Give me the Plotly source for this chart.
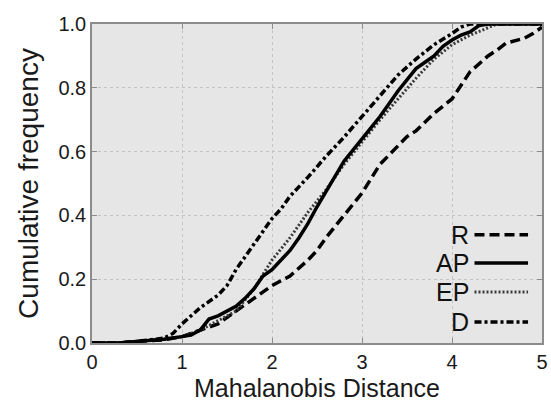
import plotly.graph_objects as go

# Data
R_x = [0, 0.3, 0.5, 0.8, 1.0, 1.2, 1.4, 1.6, 1.8, 2.0, 2.2, 2.4, 2.5, 2.6, 2.8, 3.0, 3.2, 3.4, 3.5, 3.6, 3.8, 4.0, 4.1, 4.2, 4.4, 4.5, 4.6, 4.8, 4.9, 5.0]
R_y = [0, 0, 0.005, 0.01, 0.02, 0.04, 0.06, 0.10, 0.14, 0.18, 0.21, 0.26, 0.29, 0.33, 0.40, 0.47, 0.56, 0.62, 0.647, 0.665, 0.72, 0.765, 0.81, 0.85, 0.90, 0.918, 0.94, 0.955, 0.97, 0.99]

AP_x = [0, 0.3, 0.5, 0.8, 1.0, 1.1, 1.2, 1.3, 1.4, 1.5, 1.6, 1.7, 1.8, 1.9, 2.0, 2.1, 2.2, 2.3, 2.4, 2.5, 2.6, 2.7, 2.8, 3.0, 3.2, 3.4, 3.6, 3.7, 3.8, 3.9, 4.0, 4.1, 4.2, 4.3, 4.4, 5.0]
AP_y = [0, 0, 0.005, 0.012, 0.02, 0.025, 0.04, 0.075, 0.085, 0.10, 0.115, 0.14, 0.17, 0.21, 0.23, 0.26, 0.29, 0.33, 0.375, 0.427, 0.475, 0.525, 0.57, 0.64, 0.71, 0.79, 0.86, 0.88, 0.90, 0.93, 0.95, 0.965, 0.975, 0.995, 1.0, 1.0]

EP_x = [0, 0.3, 0.5, 0.8, 1.0, 1.2, 1.4, 1.6, 1.8, 2.0, 2.2, 2.4, 2.6, 2.8, 3.0, 3.2, 3.4, 3.6, 3.8, 4.0, 4.2, 4.4, 4.5, 5.0]
EP_y = [0, 0, 0.005, 0.012, 0.02, 0.04, 0.07, 0.10, 0.17, 0.26, 0.33, 0.41, 0.48, 0.56, 0.63, 0.70, 0.765, 0.83, 0.89, 0.935, 0.965, 0.99, 1.0, 1.0]

D_x = [0, 0.3, 0.5, 0.8, 0.9, 1.0, 1.2, 1.4, 1.5, 1.6, 1.8, 2.0, 2.1, 2.2, 2.4, 2.6, 2.8, 3.0, 3.2, 3.4, 3.6, 3.8, 4.0, 4.1, 4.2, 5.0]
D_y = [0, 0, 0.005, 0.015, 0.03, 0.06, 0.11, 0.15, 0.18, 0.23, 0.31, 0.39, 0.42, 0.46, 0.52, 0.585, 0.645, 0.71, 0.775, 0.84, 0.89, 0.935, 0.97, 0.99, 1.0, 1.0]

series_names = ["R", "AP", "EP", "D"]
x_ticks = [0, 1, 2, 3, 4, 5]
y_ticks = [0.0, 0.2, 0.4, 0.6, 0.8, 1.0]

styles = {
    "R": dict(color="black", width=3.5, dash="10px,5px"),
    "AP": dict(color="black", width=3.5, dash="solid"),
    "EP": dict(color="#3a3a3a", width=3, dash="2px,2px"),
    "D": dict(color="black", width=3.5, dash="7px,3px,3px,3px"),
}
data = {"R": (R_x, R_y), "AP": (AP_x, AP_y), "EP": (EP_x, EP_y), "D": (D_x, D_y)}

fig = go.Figure()
for name in ["R", "EP", "D", "AP"]:
    xs, ys = data[name]
    fig.add_trace(go.Scatter(x=xs, y=ys, mode="lines", name=name,
                             line=dict(shape="linear", **styles[name]),
                             showlegend=False))

# Manual legend (text left of line sample)
leg_y = [0.339, 0.251, 0.160, 0.066]
for name, yy in zip(series_names, leg_y):
    fig.add_annotation(x=0.842, y=yy, xref="paper", yref="paper", text=name,
                       showarrow=False, xanchor="right", yanchor="middle",
                       font=dict(size=25, color="#111111", family="Liberation Sans, Arial"))
    st = styles[name]
    fig.add_shape(type="line", xref="paper", yref="paper", x0=0.85, x1=0.969, y0=yy, y1=yy,
                  line=dict(color=st["color"], width=st["width"], dash=st["dash"]))

axis_common = dict(
    showline=True, linecolor="#8c8c8c", linewidth=1.5, mirror="ticks",
    ticks="inside", ticklen=5, tickcolor="#8c8c8c",
    showgrid=True, gridcolor="#c4c4c4", griddash="dot", gridwidth=1,
    zeroline=False, automargin=False,
    tickfont=dict(size=20, color="#1a1a1a", family="Liberation Sans, Arial"),
)

fig.update_layout(
    width=551, height=403,
    margin=dict(l=92, r=9, t=24, b=60),
    paper_bgcolor="white", plot_bgcolor="#e6e6e6",
    font=dict(family="Liberation Sans, Arial", color="#1a1a1a"),
    xaxis=dict(range=[0, 5], tickvals=x_ticks, ticktext=[str(v) for v in x_ticks],
               title=dict(text="Mahalanobis Distance", font=dict(size=25), standoff=8),
               **axis_common),
    yaxis=dict(range=[0, 1], tickvals=y_ticks, ticktext=[f"{v:.1f}" for v in y_ticks],
               title=dict(text="Cumulative frequency", font=dict(size=28), standoff=12),
               **axis_common),
)

fig.write_html("out.html")
